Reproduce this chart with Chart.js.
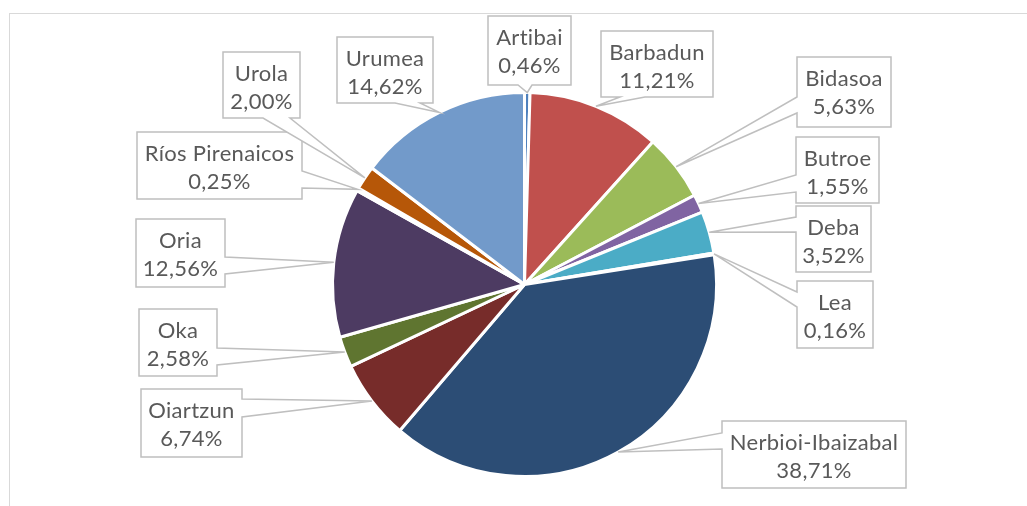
<!DOCTYPE html>
<html>
<head>
<meta charset="utf-8">
<script src="https://cdn.jsdelivr.net/npm/chart.js@4"></script>
<style>
  body { margin: 0; background: #fff; }
  #wrap { position: relative; width: 1027px; height: 506px; overflow: hidden; }
  #frame { position: absolute; left: 9px; top: 13px; width: 1040px; height: 540px;
           border: 1.5px solid #d9d9d9; box-sizing: border-box; }
  canvas { position: absolute; left: 0; top: 0; }
</style>
</head>
<body>
<div id="wrap">
  <div id="frame"></div>
  <canvas id="myChart" width="1027" height="506"></canvas>
</div>
<script>
// river basins and their share (%)
const basins = ['Artibai', 'Barbadun', 'Bidasoa', 'Butroe', 'Deba', 'Lea',
  'Nerbioi-Ibaizabal', 'Oiartzun', 'Oka', 'Oria', 'Ríos Pirenaicos', 'Urola', 'Urumea'];
const shares = [0.46, 11.21, 5.63, 1.55, 3.52, 0.16, 38.71, 6.74, 2.58, 12.56, 0.25, 2.00, 14.62];
const sliceColors = ['#4F81BD', '#C0504D', '#9BBB59', '#8064A2', '#4BACC6', '#F79646',
  '#2C4D75', '#772C2A', '#5F7530', '#4D3B62', '#276A7C', '#B65708', '#729ACA'];

// callout boxes: x1,y1,x2,y2 and where the pointer leaves the box
const callouts = [
  { box: [488, 16, 571, 85],  side: 'b', a: 518, b: 532 },
  { box: [601, 31, 713, 97],  side: 'b', a: 620, b: 645 },
  { box: [797, 57, 891, 127], side: 'l', a: 97,  b: 113 },
  { box: [796, 137, 879, 203], side: 'l', a: 175, b: 192 },
  { box: [796, 206, 871, 272], side: 'l', a: 217, b: 232 },
  { box: [797, 281, 873, 348], side: 'l', a: 292, b: 307 },
  { box: [722, 421, 906, 488], side: 'l', a: 433, b: 449 },
  { box: [141, 389, 242, 457], side: 'r', a: 399, b: 417 },
  { box: [139, 309, 217, 376], side: 'r', a: 348, b: 365 },
  { box: [136, 219, 225, 287], side: 'r', a: 257, b: 274 },
  { box: [137, 132, 302, 199], side: 'r', a: 171, b: 188 },
  { box: [223, 52, 300, 118],  side: 'b', a: 263, b: 290 },
  { box: [337, 37, 433, 103],  side: 'b', a: 395, b: 420 }
];

function fmtPct(v) {
  return v.toFixed(2).replace('.', ',') + '%';
}

function calloutPath(ctx, c, px, py) {
  const [x1, y1, x2, y2] = c.box;
  ctx.beginPath();
  ctx.moveTo(x1, y1);
  if (c.side === 't') { ctx.lineTo(c.a, y1); ctx.lineTo(px, py); ctx.lineTo(c.b, y1); }
  ctx.lineTo(x2, y1);
  if (c.side === 'r') { ctx.lineTo(x2, c.a); ctx.lineTo(px, py); ctx.lineTo(x2, c.b); }
  ctx.lineTo(x2, y2);
  if (c.side === 'b') { ctx.lineTo(c.b, y2); ctx.lineTo(px, py); ctx.lineTo(c.a, y2); }
  ctx.lineTo(x1, y2);
  if (c.side === 'l') { ctx.lineTo(x1, c.b); ctx.lineTo(px, py); ctx.lineTo(x1, c.a); }
  ctx.closePath();
}

const calloutPlugin = {
  id: 'callouts',
  afterDraw(chart) {
    const ctx = chart.ctx;
    const arcs = chart.getDatasetMeta(0).data;
    ctx.save();
    arcs.forEach((arc, i) => {
      const c = callouts[i];
      const p = arc.getProps(['x', 'y', 'startAngle', 'endAngle', 'outerRadius'], true);
      const mid = (p.startAngle + p.endAngle) / 2;
      const px = p.x + Math.cos(mid) * p.outerRadius;
      const py = p.y + Math.sin(mid) * p.outerRadius;
      calloutPath(ctx, c, px, py);
      ctx.fillStyle = '#ffffff';
      ctx.fill();
      ctx.lineWidth = 1.5;
      ctx.strokeStyle = '#bfbfbf';
      ctx.lineJoin = 'miter';
      ctx.stroke();

      const cx = (c.box[0] + c.box[2]) / 2;
      ctx.fillStyle = '#595959';
      ctx.font = '22px Lato';
      ctx.letterSpacing = '0.3px'; // also keeps "ti" from joining
      ctx.textAlign = 'center';
      ctx.textBaseline = 'middle';
      ctx.fillText(basins[i], cx, c.box[1] + 22);
      ctx.fillText(fmtPct(shares[i]), cx, c.box[1] + 50);
    });
    ctx.restore();
  }
};

const ctx = document.getElementById('myChart').getContext('2d');
new Chart(ctx, {
  type: 'pie',
  data: {
    labels: basins,
    datasets: [{
      data: shares,
      backgroundColor: sliceColors,
      borderColor: '#ffffff',
      borderWidth: 3
    }]
  },
  options: {
    responsive: false,
    animation: false,
    layout: { padding: { left: 331, right: 309, top: 91, bottom: 28 } },
    plugins: {
      legend: { display: false },
      tooltip: { enabled: false }
    }
  },
  plugins: [calloutPlugin]
});
</script>
</body>
</html>
